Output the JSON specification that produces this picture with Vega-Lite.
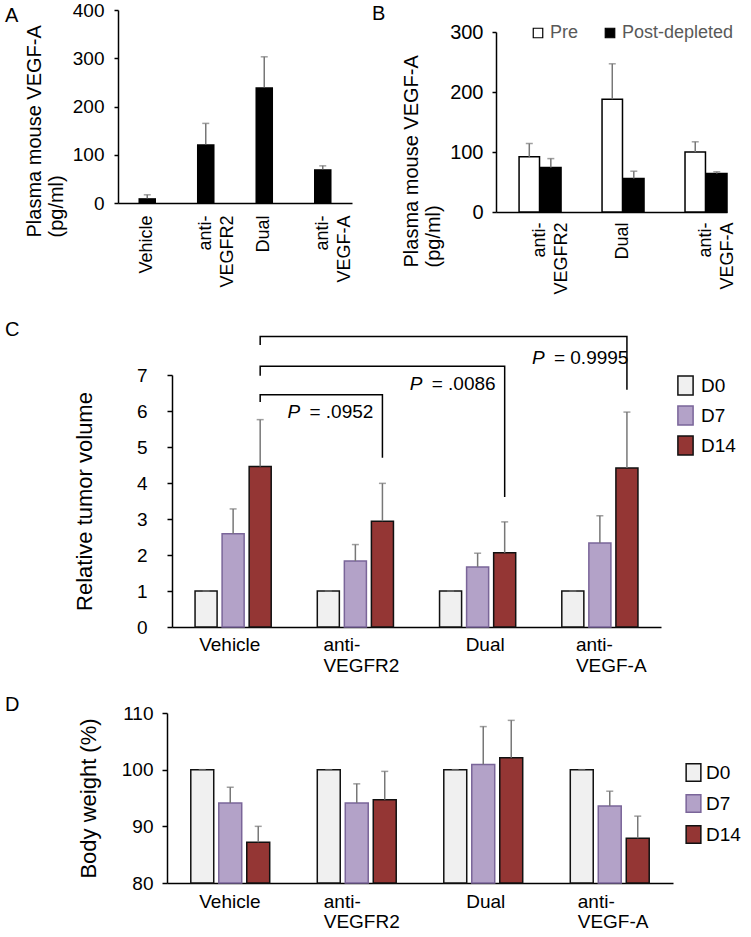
{
  "$schema": "https://vega.github.io/schema/vega-lite/v6.json",
  "padding": {"left": 5, "top": 1, "right": 0, "bottom": 0},
  "config": {
    "font": "Liberation Sans",
    "view": {"stroke": null},
    "axis": {"domainColor": "#000", "tickColor": "#000", "labelColor": "#000", "titleColor": "#000", "titleFontWeight": "normal", "grid": false, "domainWidth": 1.5, "tickWidth": 1.5, "labelOverlap": false},
    "title": {"fontWeight": "normal", "color": "#000", "fontSize": 20, "anchor": "start", "frame": "group", "offset": 0},
    "legend": {"labelColor": "#000"}
  },
  "resolve": {"scale": {"x": "independent", "y": "independent", "xOffset": "independent", "fill": "independent", "stroke": "independent"}, "legend": {"fill": "independent", "stroke": "independent"}},
  "datasets": {
    "a": [
      {"g": "Vehicle", "v": 10, "hi": 17},
      {"g": "anti-|VEGFR2", "v": 122, "hi": 165},
      {"g": "Dual", "v": 240, "hi": 303},
      {"g": "anti-|VEGF-A", "v": 70, "hi": 77}
    ],
    "b": [
      {"g": "anti-|VEGFR2", "c": "Pre", "v": 92, "hi": 114},
      {"g": "anti-|VEGFR2", "c": "Post-depleted", "v": 74, "hi": 89},
      {"g": "Dual", "c": "Pre", "v": 188, "hi": 247},
      {"g": "Dual", "c": "Post-depleted", "v": 56, "hi": 68},
      {"g": "anti-|VEGF-A", "c": "Pre", "v": 100, "hi": 117},
      {"g": "anti-|VEGF-A", "c": "Post-depleted", "v": 64, "hi": 67}
    ],
    "c": [
      {"g": "Vehicle", "d": "D0", "v": 1, "hi": 1},
      {"g": "Vehicle", "d": "D7", "v": 2.59, "hi": 3.28},
      {"g": "Vehicle", "d": "D14", "v": 4.46, "hi": 5.76},
      {"g": "anti-|VEGFR2", "d": "D0", "v": 1, "hi": 1},
      {"g": "anti-|VEGFR2", "d": "D7", "v": 1.83, "hi": 2.29},
      {"g": "anti-|VEGFR2", "d": "D14", "v": 2.94, "hi": 3.99},
      {"g": "Dual", "d": "D0", "v": 1, "hi": 1},
      {"g": "Dual", "d": "D7", "v": 1.67, "hi": 2.05},
      {"g": "Dual", "d": "D14", "v": 2.06, "hi": 2.92},
      {"g": "anti-|VEGF-A", "d": "D0", "v": 1, "hi": 1},
      {"g": "anti-|VEGF-A", "d": "D7", "v": 2.33, "hi": 3.09},
      {"g": "anti-|VEGF-A", "d": "D14", "v": 4.42, "hi": 5.97}
    ],
    "brk": [
      {"b": 1, "i": 0, "g": "Vehicle", "d": "D14", "y": 6.25},
      {"b": 1, "i": 1, "g": "Vehicle", "d": "D14", "y": 6.45},
      {"b": 1, "i": 2, "g": "anti-|VEGFR2", "d": "D14", "y": 6.45},
      {"b": 1, "i": 3, "g": "anti-|VEGFR2", "d": "D14", "y": 4.7},
      {"b": 2, "i": 0, "g": "Vehicle", "d": "D14", "y": 6.98},
      {"b": 2, "i": 1, "g": "Vehicle", "d": "D14", "y": 7.24},
      {"b": 2, "i": 2, "g": "Dual", "d": "D14", "y": 7.24},
      {"b": 2, "i": 3, "g": "Dual", "d": "D14", "y": 3.61},
      {"b": 3, "i": 0, "g": "Vehicle", "d": "D14", "y": 7.83},
      {"b": 3, "i": 1, "g": "Vehicle", "d": "D14", "y": 8.07},
      {"b": 3, "i": 2, "g": "anti-|VEGF-A", "d": "D14", "y": 8.07},
      {"b": 3, "i": 3, "g": "anti-|VEGF-A", "d": "D14", "y": 6.59}
    ],
    "plab": [
      {"g": "anti-|VEGFR2", "d": "D14", "y": 5.97, "t": "= .0952"},
      {"g": "Dual", "d": "D14", "y": 6.75, "t": "= .0086"},
      {"g": "anti-|VEGF-A", "d": "D14", "y": 7.47, "t": "= 0.9995"}
    ],
    "dd": [
      {"g": "Vehicle", "d": "D0", "v": 100, "hi": 100},
      {"g": "Vehicle", "d": "D7", "v": 94.1, "hi": 96.9},
      {"g": "Vehicle", "d": "D14", "v": 87.2, "hi": 90.0},
      {"g": "anti-|VEGFR2", "d": "D0", "v": 100, "hi": 100},
      {"g": "anti-|VEGFR2", "d": "D7", "v": 94.1, "hi": 97.5},
      {"g": "anti-|VEGFR2", "d": "D14", "v": 94.7, "hi": 99.7},
      {"g": "Dual", "d": "D0", "v": 100, "hi": 100},
      {"g": "Dual", "d": "D7", "v": 100.9, "hi": 107.6},
      {"g": "Dual", "d": "D14", "v": 102.1, "hi": 108.7},
      {"g": "anti-|VEGF-A", "d": "D0", "v": 100, "hi": 100},
      {"g": "anti-|VEGF-A", "d": "D7", "v": 93.6, "hi": 96.2},
      {"g": "anti-|VEGF-A", "d": "D14", "v": 87.9, "hi": 91.8}
    ]
  },
  "vconcat": [
    {
      "resolve": {"scale": {"x": "independent", "y": "independent", "xOffset": "independent", "fill": "independent", "stroke": "independent"}, "legend": {"fill": "independent", "stroke": "independent"}},
      "spacing": 24,
      "vconcat": [
        {
          "resolve": {"scale": {"x": "independent", "y": "independent", "xOffset": "independent", "fill": "independent", "stroke": "independent"}, "legend": {"fill": "independent", "stroke": "independent"}},
          "spacing": 0,
          "hconcat": [
            {"title": {"text": "A", "dy": 22}, "width": 19, "height": 1, "data": {"values": [{}]}, "mark": {"type": "point", "opacity": 0}},
            {
              "width": 234,
              "height": 193,
              "data": {"name": "a"},
              "encoding": {
                "x": {"field": "g", "type": "nominal", "sort": null, "scale": {"paddingInner": 0.7, "paddingOuter": 0.35},
                  "axis": {"title": null, "labelAngle": -90, "labelExpr": "split(datum.value, '|')", "ticks": false, "labelPadding": 12, "labelFontSize": 18, "labelLineHeight": 22}}
              },
              "layer": [
                {"mark": {"type": "bar", "color": "#000"},
                  "encoding": {"y": {"field": "v", "type": "quantitative", "scale": {"domain": [0, 400], "nice": false},
                    "axis": {"values": [0, 100, 200, 300, 400], "title": ["Plasma mouse VEGF-A", "(pg/ml)"], "titleFontSize": 20, "titleLineHeight": 22, "titleAlign": "left", "titleY": 227, "labelFontSize": 19, "tickSize": 4, "labelPadding": 10, "titlePadding": 6}}}},
                {"mark": {"type": "rule", "color": "#777", "strokeWidth": 1.5},
                  "encoding": {"y": {"field": "v", "type": "quantitative"}, "y2": {"field": "hi"}}},
                {"mark": {"type": "tick", "color": "#777", "thickness": 1.5, "size": 7},
                  "encoding": {"y": {"field": "hi", "type": "quantitative"}}}
              ]
            },
            {"title": {"text": "B", "dy": 20, "dx": 18}, "width": 47, "height": 1, "data": {"values": [{}]}, "mark": {"type": "point", "opacity": 0}},
            {
              "resolve": {"scale": {"x": "independent", "y": "independent", "xOffset": "independent", "fill": "independent"}},
              "spacing": 0,
              "vconcat": [
                {"width": 1, "height": 12, "data": {"values": [{}]}, "mark": {"type": "point", "opacity": 0}},
                {
                  "width": 231,
                  "height": 180,
                  "data": {"name": "b"},
                  "encoding": {
                    "x": {"field": "g", "type": "nominal", "sort": null, "scale": {"paddingInner": 0.494, "paddingOuter": 0.139, "align": 1},
                      "axis": {"title": null, "labelAngle": -90, "labelExpr": "split(datum.value, '|')", "ticks": false, "labelPadding": 10, "labelFontSize": 18, "labelLineHeight": 22}},
                    "xOffset": {"field": "c", "type": "nominal", "sort": ["Pre", "Post-depleted"], "scale": {"paddingInner": 0.05, "paddingOuter": 0}}
                  },
                  "layer": [
                    {"mark": {"type": "bar", "stroke": "#000", "strokeWidth": 1.5},
                      "encoding": {
                        "y": {"field": "v", "type": "quantitative", "scale": {"domain": [0, 300], "nice": false},
                          "axis": {"values": [0, 100, 200, 300], "title": ["Plasma mouse VEGF-A", "(pg/ml)"], "titleFontSize": 20, "titleLineHeight": 22, "titleAlign": "left", "titleY": 235, "labelFontSize": 20, "tickSize": 4, "labelPadding": 9, "titlePadding": 6}},
                        "fill": {"field": "c", "type": "nominal", "scale": {"domain": ["Pre", "Post-depleted"], "range": ["#ffffff", "#000000"]},
                          "legend": {"orient": "none", "legendX": 33, "legendY": -8, "direction": "horizontal", "title": null, "symbolType": "square", "symbolSize": 90, "symbolStrokeColor": "#000", "symbolStrokeWidth": 1.2, "labelFontSize": 18, "labelColor": "#595959", "labelOffset": 3, "columnPadding": 22}}
                      }},
                    {"mark": {"type": "rule", "color": "#777", "strokeWidth": 1.5},
                      "encoding": {"y": {"field": "v", "type": "quantitative"}, "y2": {"field": "hi"}}},
                    {"mark": {"type": "tick", "color": "#777", "thickness": 1.5, "size": 7},
                      "encoding": {"y": {"field": "hi", "type": "quantitative"}}}
                  ]
                }
              ]
            }
          ]
        },
        {
          "resolve": {"scale": {"x": "independent", "y": "independent", "xOffset": "independent", "fill": "independent", "stroke": "independent"}, "legend": {"fill": "independent", "stroke": "independent"}},
          "spacing": 0,
          "hconcat": [
            {"title": {"text": "C", "dy": -29}, "width": 68, "height": 1, "data": {"values": [{}]}, "mark": {"type": "point", "opacity": 0}},
            {
              "width": 489,
              "height": 252,
              "encoding": {
                "x": {"field": "g", "type": "nominal", "sort": ["Vehicle", "anti-|VEGFR2", "Dual", "anti-|VEGF-A"], "scale": {"paddingInner": 0, "paddingOuter": 0},
                  "axis": {"title": null, "labelAngle": 0, "labelAlign": "left", "labelBaseline": "top", "labelExpr": "split(datum.value, '|')", "ticks": false, "labelPadding": 8, "labelFontSize": 19, "labelLineHeight": 21,
                    "labelOffset": {"condition": [{"test": "datum.value === 'Vehicle'", "value": -34}, {"test": "datum.value === 'Dual'", "value": -12}, {"test": "datum.value === 'anti-|VEGF-A'", "value": -24}], "value": -32}}},
                "xOffset": {"field": "d", "type": "nominal", "sort": ["D0", "D7", "D14"], "scale": {"paddingInner": 0.185, "paddingOuter": 0.852}}
              },
              "layer": [
                {"data": {"name": "c"},
                  "mark": {"type": "bar", "strokeWidth": 1.5},
                  "encoding": {
                    "y": {"field": "v", "type": "quantitative", "title": "Relative tumor volume", "scale": {"domain": [0, 7], "nice": false},
                      "axis": {"values": [0, 1, 2, 3, 4, 5, 6, 7], "tickCount": 8, "labelOverlap": false, "title": "Relative tumor volume", "titleFontSize": 22, "labelFontSize": 19, "tickSize": 5, "labelPadding": 20, "titlePadding": 40}},
                    "fill": {"field": "d", "type": "nominal", "scale": {"domain": ["D0", "D7", "D14"], "range": ["#f0f0f0", "#b3a2c8", "#943634"]},
                      "legend": {"orient": "right", "offset": 14, "title": null, "symbolType": "M-0.8,-1H0.8V1H-0.8Z", "symbolSize": 361, "symbolStrokeWidth": 1.5, "labelFontSize": 19, "labelOffset": 5, "rowPadding": 5}},
                    "stroke": {"field": "d", "type": "nominal", "scale": {"domain": ["D0", "D7", "D14"], "range": ["#111111", "#7a6599", "#111111"]},
                      "legend": {"orient": "right", "offset": 14, "title": null, "symbolType": "M-0.8,-1H0.8V1H-0.8Z", "symbolSize": 361, "symbolStrokeWidth": 1.5, "labelFontSize": 19, "labelOffset": 5, "rowPadding": 5}}
                  }},
                {"data": {"name": "c"},
                  "mark": {"type": "rule", "color": "#777", "strokeWidth": 1.5},
                  "encoding": {"y": {"field": "v", "type": "quantitative", "title": "Relative tumor volume", "axis": {"values": [0, 1, 2, 3, 4, 5, 6, 7], "tickCount": 8, "labelOverlap": false}}, "y2": {"field": "hi"}}},
                {"data": {"name": "c"},
                  "mark": {"type": "tick", "color": "#777", "thickness": 1.5, "size": 7},
                  "encoding": {"y": {"field": "hi", "type": "quantitative", "title": "Relative tumor volume", "axis": {"values": [0, 1, 2, 3, 4, 5, 6, 7], "tickCount": 8, "labelOverlap": false}}}},
                {"data": {"name": "brk"},
                  "mark": {"type": "line", "color": "#000", "strokeWidth": 1.5},
                  "encoding": {"y": {"field": "y", "type": "quantitative", "title": "Relative tumor volume", "axis": {"values": [0, 1, 2, 3, 4, 5, 6, 7], "tickCount": 8, "labelOverlap": false}}, "detail": {"field": "b"}, "order": {"field": "i"}}},
                {"data": {"name": "plab"},
                  "mark": {"type": "text", "text": "P", "fontStyle": "italic", "fontSize": 19, "align": "left", "dx": -95},
                  "encoding": {"y": {"field": "y", "type": "quantitative", "title": "Relative tumor volume", "axis": {"values": [0, 1, 2, 3, 4, 5, 6, 7], "tickCount": 8, "labelOverlap": false}}}},
                {"data": {"name": "plab"},
                  "mark": {"type": "text", "fontSize": 19, "align": "left", "dx": -73},
                  "encoding": {"y": {"field": "y", "type": "quantitative", "title": "Relative tumor volume", "axis": {"values": [0, 1, 2, 3, 4, 5, 6, 7], "tickCount": 8, "labelOverlap": false}}, "text": {"field": "t"}}}
              ]
            }
          ]
        }
      ]
    },
    {
      "resolve": {"scale": {"x": "independent", "y": "independent", "xOffset": "independent", "fill": "independent", "stroke": "independent"}, "legend": {"fill": "independent", "stroke": "independent"}},
      "spacing": 0,
      "hconcat": [
        {"title": {"text": "D", "dy": 8}, "width": 72, "height": 1, "data": {"values": [{}]}, "mark": {"type": "point", "opacity": 0}},
        {
          "width": 506,
          "height": 170,
          "data": {"name": "dd"},
          "encoding": {
            "x": {"field": "g", "type": "nominal", "sort": ["Vehicle", "anti-|VEGFR2", "Dual", "anti-|VEGF-A"], "scale": {"paddingInner": 0, "paddingOuter": 0},
              "axis": {"title": null, "labelAngle": 0, "labelAlign": "left", "labelBaseline": "top", "labelExpr": "split(datum.value, '|')", "ticks": false, "labelPadding": 9, "labelFontSize": 19, "labelLineHeight": 20,
                "labelOffset": {"condition": [{"test": "datum.value === 'Vehicle'", "value": -31}, {"test": "datum.value === 'Dual'", "value": -17}, {"test": "datum.value === 'anti-|VEGF-A'", "value": -32}], "value": -33}}},
            "xOffset": {"field": "d", "type": "nominal", "sort": ["D0", "D7", "D14"], "scale": {"paddingInner": 0.18, "paddingOuter": 0.85}}
          },
          "layer": [
            {"mark": {"type": "bar", "strokeWidth": 1.5},
              "encoding": {
                "y": {"field": "v", "type": "quantitative", "scale": {"domain": [80, 110], "nice": false, "zero": false},
                  "axis": {"values": [80, 90, 100, 110], "title": "Body weight (%)", "titleFontSize": 22, "labelFontSize": 19, "tickSize": 5, "labelPadding": 9, "titlePadding": 21}},
                "y2": {"datum": 80},
                "fill": {"field": "d", "type": "nominal", "scale": {"domain": ["D0", "D7", "D14"], "range": ["#f0f0f0", "#b3a2c8", "#943634"]},
                  "legend": {"orient": "none", "legendX": 517, "legendY": 50, "title": null, "symbolType": "M-0.85,-1H0.85V1H-0.85Z", "symbolSize": 300, "symbolStrokeWidth": 1.5, "labelFontSize": 19, "labelOffset": 3, "rowPadding": 6}},
                "stroke": {"field": "d", "type": "nominal", "scale": {"domain": ["D0", "D7", "D14"], "range": ["#111111", "#7a6599", "#111111"]},
                  "legend": {"orient": "none", "legendX": 517, "legendY": 50, "title": null, "symbolType": "M-0.85,-1H0.85V1H-0.85Z", "symbolSize": 300, "symbolStrokeWidth": 1.5, "labelFontSize": 19, "labelOffset": 3, "rowPadding": 6}}
              }},
            {"mark": {"type": "rule", "color": "#777", "strokeWidth": 1.5},
              "encoding": {"y": {"field": "v", "type": "quantitative"}, "y2": {"field": "hi"}}},
            {"mark": {"type": "tick", "color": "#777", "thickness": 1.5, "size": 7},
              "encoding": {"y": {"field": "hi", "type": "quantitative"}}}
          ]
        }
      ]
    }
  ],
  "spacing": 19
}
